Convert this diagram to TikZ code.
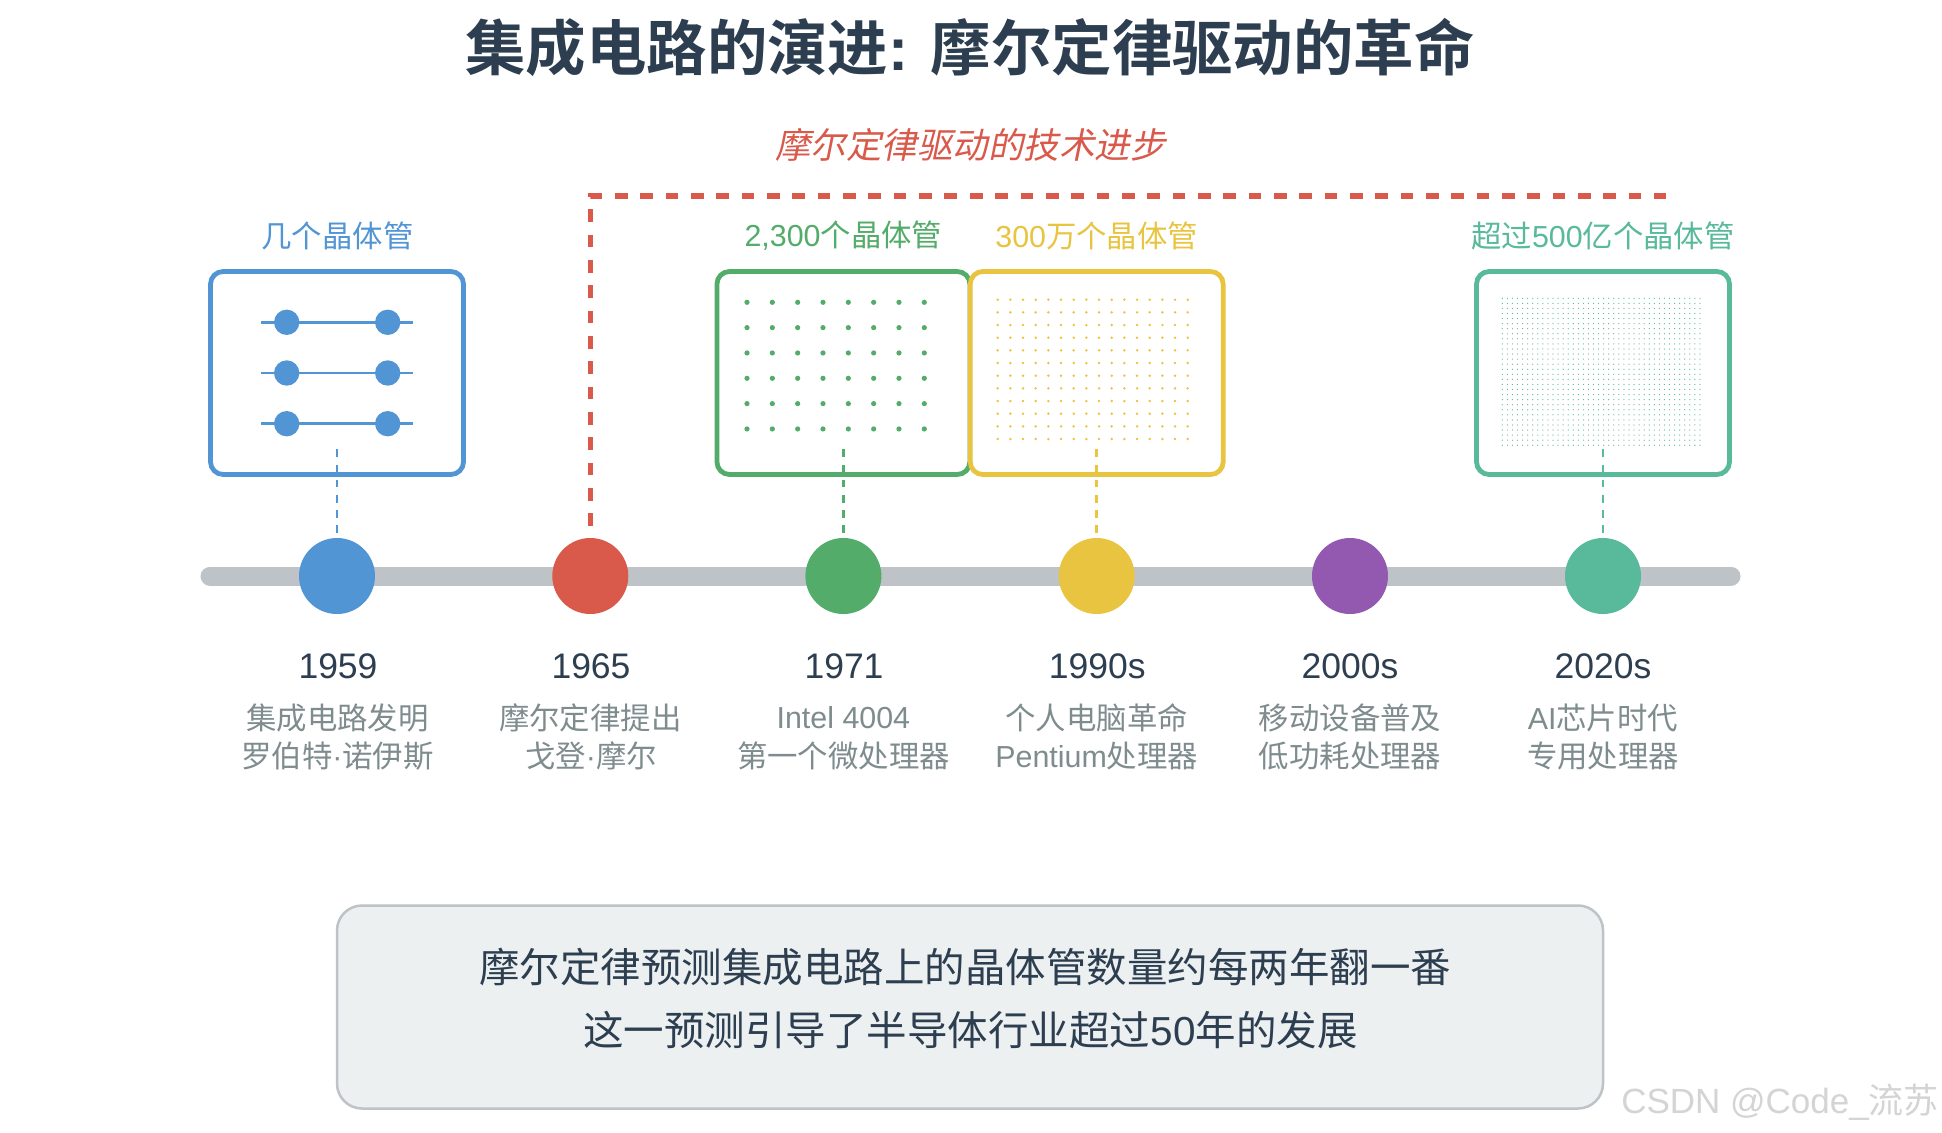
\documentclass[tikz,border=0pt]{standalone}
\usepackage{fontspec}
\setmainfont{Liberation Sans}
\newfontfamily\cjk{Noto Sans CJK SC}
\newfontfamily\cjkb[BoldFont={Noto Sans CJK SC Bold}]{Noto Sans CJK SC}
\newfontfamily\cjkit[FakeSlant=0.2]{Noto Sans CJK SC}
\definecolor{cblue}{HTML}{5295D5}
\definecolor{cred}{HTML}{D9594A}
\definecolor{cgreen}{HTML}{53AC69}
\definecolor{cyellow}{HTML}{E9C440}
\definecolor{cpurple}{HTML}{9359B0}
\definecolor{cteal}{HTML}{58B99B}
\definecolor{ctitle}{HTML}{2C3E50}
\definecolor{cgrey}{HTML}{7F8C8D}
\definecolor{cline}{HTML}{BDC3C7}
\definecolor{cpanel}{HTML}{ECF0F1}
\definecolor{cmark}{HTML}{D4D4D4}
\newcommand{\fs}[1]{\fontsize{#1}{#1}\selectfont}
\newcommand{\C}[1]{{\cjk #1}}
\tikzset{
  chipbox/.style={draw=#1,line width=4.8pt,rounded corners=12.7pt,fill=white,minimum width=253pt,minimum height=203pt,inner sep=0pt},
  stage/.style={circle,fill=#1,minimum size=76pt,inner sep=0pt,draw=none},
  drop/.style={draw=#1,line width=2.6pt,dash pattern=on 7.6pt off 7.6pt},
  countlabel/.style={text=#1,font=\fs{30.4},anchor=center,inner sep=0pt},
  yearlabel/.style={text=ctitle,font=\fs{35.5},anchor=center,inner sep=0pt},
  desclabel/.style={text=cgrey,font=\fs{30.4},anchor=center,inner sep=0pt},
  summary/.style={text=ctitle,font=\fs{40.5},anchor=center,inner sep=0pt},
}
\begin{document}
\begin{tikzpicture}[x=1pt,y=-1pt]
\useasboundingbox (0,0) rectangle (1942,1132);
\fill[white] (0,0) rectangle (1942,1132);

\node[text=ctitle,font=\fs{60.4},inner sep=0pt] (title) at (970,47) {\textbf{\cjkb\bfseries 集成电路的演进}\textbf{: }\textbf{\cjkb\bfseries 摩尔定律驱动的革命}};
\node[text=cred,font=\fs{35.5},inner sep=0pt] (sub) at (970.5,145) {\cjkit 摩尔定律驱动的技术进步};

% timeline
\coordinate (tlA) at (210,576);
\coordinate (tlB) at (1731,576);
\draw[cline,line width=19pt,line cap=round] (tlA) -- (tlB);

% boxes
\node[chipbox=cblue] (b1) at (337,373) {};
\node[chipbox=cgreen] (b3) at (843.4,373) {};
\node[chipbox=cyellow] (b4) at (1096.7,373) {};
\node[chipbox=cteal] (b6) at (1603,373) {};

% few transistors
\foreach \yy in {322.3,373,423.7}{
  \draw[cblue,line width=2.8pt] (261,\yy) -- (413,\yy);
  \fill[cblue] (286.7,\yy) circle (12.67pt) (387.7,\yy) circle (12.67pt);
}
% 2300
\foreach \i in {0,...,7}\foreach \j in {0,...,5}{
  \fill[cgreen] ({747+25.33*\i},{302.3+25.33*\j}) circle (2.6pt);
}
% 3 million
\foreach \i in {0,...,15}\foreach \j in {0,...,11}{
  \fill[cyellow] ({997.7+12.667*\i},{299.7+12.667*\j}) circle (1.35pt);
}
% 50 billion
\foreach \i in {0,...,39}\foreach \j in {0,...,29}{
  \fill[cteal] ({1502.3+5.067*\i},{298.3+5.067*\j}) circle (0.63pt);
}

% stages
\node[stage=cblue] (s1) at (337,576) {};
\node[stage=cred] (s2) at (590.3,576) {};
\node[stage=cgreen] (s3) at (843.4,576) {};
\node[stage=cyellow] (s4) at (1096.7,576) {};
\node[stage=cpurple] (s5) at (1350,576) {};
\node[stage=cteal] (s6) at (1603,576) {};

% drop lines
\coordinate (d1) at (337,449.3);
\coordinate (d1e) at (337,534);
\coordinate (d3) at (843.4,449.3);
\coordinate (d3e) at (843.4,534);
\coordinate (d4) at (1096.7,449.3);
\coordinate (d4e) at (1096.7,534);
\coordinate (d6) at (1603,449.3);
\coordinate (d6e) at (1603,534);
\draw[drop=cblue] (d1) -- (d1e);
\draw[drop=cgreen] (d3) -- (d3e);
\draw[drop=cyellow] (d4) -- (d4e);
\draw[drop=cteal] (d6) -- (d6e);

% moore bracket
\coordinate (mA) at (590.3,526);
\coordinate (mB) at (590.3,196);
\coordinate (mC) at (1666,196);
\draw[cred,line width=5.4pt,dash pattern=on 12.67pt off 12.67pt] (mA) -- (mB) -- (mC);

% count labels
\node[countlabel=cblue] (c1) at (337.5,236) {\C{几个晶体管}};
\node[countlabel=cgreen] (c3) at (843.4,236) {2,300\C{个晶体管}};
\node[countlabel=cyellow] (c4) at (1096.7,236) {300\C{万个晶体管}};
\node[countlabel=cteal] (c6) at (1603,236) {\C{超过}500\C{亿个晶体管}};

% years
\node[yearlabel] (y1) at (338,666) {1959};
\node[yearlabel] (y2) at (591,666) {1965};
\node[yearlabel] (y3) at (844,666) {1971};
\node[yearlabel] (y4) at (1097.2,666) {1990s};
\node[yearlabel] (y5) at (1350,666) {2000s};
\node[yearlabel] (y6) at (1603,666) {2020s};

% descriptions
\node[desclabel] (e1a) at (337.5,718) {\C{集成电路发明}};
\node[desclabel] (e1b) at (337.5,756) {\C{罗伯特}·\C{诺伊斯}};
\node[desclabel] (e2a) at (590.3,718) {\C{摩尔定律提出}};
\node[desclabel] (e2b) at (591,756) {\C{戈登}·\C{摩尔}};
\node[desclabel] (e3a) at (843.4,718) {Intel 4004};
\node[desclabel] (e3b) at (843.4,756) {\C{第一个微处理器}};
\node[desclabel] (e4a) at (1096.7,718) {\C{个人电脑革命}};
\node[desclabel] (e4b) at (1096.7,756) {Pentium\C{处理器}};
\node[desclabel] (e5a) at (1350,718) {\C{移动设备普及}};
\node[desclabel] (e5b) at (1350,756) {\C{低功耗处理器}};
\node[desclabel] (e6a) at (1603,718) {AI\C{芯片时代}};
\node[desclabel] (e6b) at (1603,756) {\C{专用处理器}};

% summary panel
\node[draw=cline,fill=cpanel,line width=2.5pt,rounded corners=25pt,minimum width=1266pt,minimum height=203pt,inner sep=0pt] (panel) at (970,1007) {};
\node[summary] (p1) at (965,967) {\C{摩尔定律预测集成电路上的晶体管数量约每两年翻一番}};
\node[summary] (p2) at (970.5,1030) {\C{这一预测引导了半导体行业超过}50\C{年的发展}};

% watermark
\node[text=cmark,font=\fs{35},inner sep=0pt,anchor=base east] (wm) at (1939,1113) {CSDN @Code\_\C{流苏}};
\end{tikzpicture}
\end{document}
